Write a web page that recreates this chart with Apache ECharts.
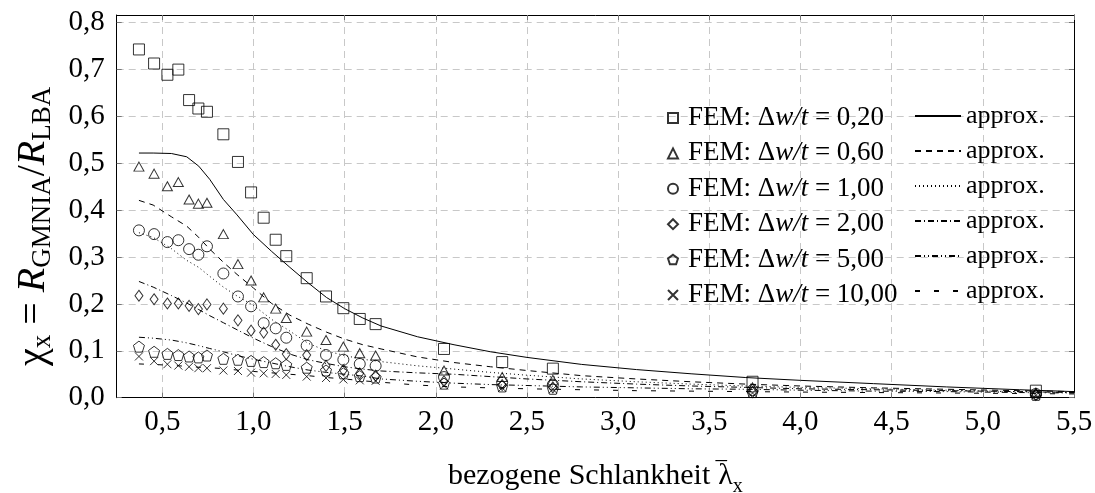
<!DOCTYPE html>
<html>
<head>
<meta charset="utf-8">
<script src="https://cdn.jsdelivr.net/npm/echarts@6/dist/echarts.min.js"></script>
<style>
html,body{margin:0;padding:0;background:#fff;}
#chart{width:1095px;height:493px;}
</style>
</head>
<body>
<div id="chart"></div>
<script>
// ---------- data ----------
const xTicks = [0.5, 1.0, 1.5, 2.0, 2.5, 3.0, 3.5, 4.0, 4.5, 5.0, 5.5];
const yTicks = [0, 0.1, 0.2, 0.3, 0.4, 0.5, 0.6, 0.7, 0.8];
const imperfLabels = ['0,20', '0,60', '1,00', '2,00', '5,00', '10,00'];

// FEM results: relative slenderness values
const femX = [0.372, 0.455, 0.528, 0.588, 0.647, 0.698, 0.745, 0.835, 0.915, 0.987, 1.056, 1.122, 1.18, 1.292, 1.398, 1.493, 1.583, 1.67, 2.045, 2.364, 2.642, 3.737, 5.291];
const fem020 = [0.743, 0.713, 0.689, 0.700, 0.635, 0.617, 0.610, 0.562, 0.503, 0.438, 0.384, 0.337, 0.302, 0.255, 0.216, 0.191, 0.168, 0.157, 0.104, 0.076, 0.062, 0.034, 0.015];
const fem060 = [0.493, 0.478, 0.451, 0.460, 0.423, 0.414, 0.416, 0.349, 0.285, 0.250, 0.214, 0.190, 0.170, 0.141, 0.123, 0.109, 0.095, 0.090, 0.058, 0.044, 0.038, 0.022, 0.011];
const fem100 = [0.357, 0.349, 0.332, 0.336, 0.317, 0.305, 0.323, 0.265, 0.216, 0.195, 0.159, 0.148, 0.128, 0.111, 0.091, 0.081, 0.072, 0.068, 0.044, 0.033, 0.028, 0.016, 0.008];
const fem200 = [0.2175, 0.210, 0.201, 0.201, 0.196, 0.189, 0.199, 0.190, 0.165, 0.143, 0.139, 0.113, 0.093, 0.091, 0.068, 0.059, 0.052, 0.047, 0.035, 0.027, 0.022, 0.012, 0.006];
const fem500 = [0.109, 0.098, 0.0935, 0.091, 0.088, 0.086, 0.090, 0.083, 0.081, 0.0785, 0.076, 0.0735, 0.070, 0.064, 0.058, 0.052, 0.046, 0.043, 0.030, 0.024, 0.019, 0.012, 0.006];
const fem1000 = [0.088, 0.078, 0.0714, 0.0685, 0.066, 0.063, 0.063, 0.058, 0.057, 0.0535, 0.052, 0.0507, 0.0486, 0.045, 0.042, 0.039, 0.037, 0.036, 0.026, 0.021, 0.018, 0.010, 0.005];

// approximation curves
const lineX = [0.372, 0.45, 0.55, 0.634, 0.70, 0.76, 0.835, 0.91, 1.0, 1.1, 1.2, 1.3, 1.4, 1.5, 1.6, 1.7, 1.9, 2.1, 2.3, 2.5, 2.8, 3.1, 3.4, 3.7, 4.0, 4.4, 4.8, 5.2, 5.5];
const approx020 = [0.522, 0.522, 0.521, 0.514, 0.494, 0.466, 0.423, 0.390, 0.348, 0.312, 0.278, 0.245, 0.214, 0.190, 0.170, 0.153, 0.130, 0.113, 0.098, 0.086, 0.071, 0.060, 0.051, 0.043, 0.037, 0.030, 0.023, 0.017, 0.013];
const approx060 = [0.421, 0.411, 0.386, 0.366, 0.342, 0.317, 0.289, 0.263, 0.234, 0.201, 0.176, 0.157, 0.140, 0.125, 0.113, 0.104, 0.087, 0.075, 0.066, 0.058, 0.047, 0.040, 0.034, 0.029, 0.025, 0.021, 0.018, 0.015, 0.013];
const approx100 = [0.352, 0.342, 0.318, 0.293, 0.278, 0.259, 0.236, 0.217, 0.197, 0.167, 0.142, 0.116, 0.100, 0.090, 0.082, 0.077, 0.068, 0.061, 0.054, 0.048, 0.040, 0.034, 0.029, 0.025, 0.022, 0.019, 0.016, 0.013, 0.011];
const approx200 = [0.248, 0.236, 0.218, 0.202, 0.188, 0.175, 0.160, 0.145, 0.127, 0.109, 0.093, 0.081, 0.073, 0.066, 0.061, 0.057, 0.053, 0.050, 0.045, 0.040, 0.034, 0.029, 0.025, 0.022, 0.019, 0.017, 0.015, 0.013, 0.011];
const approx500 = [0.129, 0.127, 0.123, 0.117, 0.111, 0.105, 0.098, 0.090, 0.082, 0.074, 0.066, 0.059, 0.054, 0.050, 0.046, 0.040, 0.035, 0.031, 0.028, 0.026, 0.023, 0.021, 0.019, 0.018, 0.016, 0.014, 0.013, 0.011, 0.010];
const approx1000 = [0.072, 0.071, 0.069, 0.067, 0.065, 0.064, 0.062, 0.059, 0.056, 0.053, 0.050, 0.047, 0.043, 0.040, 0.036, 0.033, 0.027, 0.023, 0.021, 0.019, 0.017, 0.015, 0.014, 0.013, 0.012, 0.011, 0.010, 0.009, 0.008];

// ---------- styling ----------
const FONT = 'Liberation Serif';
const femSets = [fem020, fem060, fem100, fem200, fem500, fem1000];
const approxSets = [approx020, approx060, approx100, approx200, approx500, approx1000];
const symbols = [
  'rect', 'triangle', 'circle', 'diamond',
  'path://M0,-1 L0.951,-0.309 L0.588,0.809 L-0.588,0.809 L-0.951,-0.309 Z',
  'path://M0,0 L10,10 M10,0 L0,10'
];
const symbolSizes = [11, [10, 9], 11, [8, 11], 11, 8];
const dashes = ['solid', [6, 5], [1, 3], [6, 3, 1, 3], [6, 3, 1, 3, 1, 3], [5, 14]];

function zip(xs, ys) { return xs.map((x, i) => [x, ys[i]]); }
const femName = i => 'FEM: Δw/t = ' + imperfLabels[i];
const apxName = i => 'approx. ' + imperfLabels[i];

const series = [];
approxSets.forEach((ys, i) => {
  series.push({
    type: 'line', name: apxName(i), xAxisIndex: 0, yAxisIndex: 0,
    data: zip(lineX, ys), showSymbol: false, symbol: 'none', smooth: false,
    lineStyle: { color: '#000', width: 1, type: dashes[i] },
    itemStyle: { color: 'rgba(0,0,0,0)', borderWidth: 0 }, z: 2, silent: true
  });
});
femSets.forEach((ys, i) => {
  series.push({
    type: 'scatter', name: femName(i), xAxisIndex: 0, yAxisIndex: 0,
    data: zip(femX, ys), symbol: symbols[i], symbolSize: symbolSizes[i],
    itemStyle: { color: 'rgba(0,0,0,0)', borderColor: '#000', borderWidth: 1 },
    z: 3, silent: true
  });
});

const fmt1 = v => v.toFixed(1).replace('.', ',');
const tickStyle = { color: '#777', width: 1 };
const frame = { show: true, onZero: false, lineStyle: { color: '#000', width: 1 } };

const option = {
  animation: false,
  backgroundColor: '#fff',
  grid: { left: 116.7, right: 21, top: 15, bottom: 95.3, containLabel: false, outerBoundsMode: 'none' },
  xAxis: [
    {
      type: 'value', min: 0.25, max: 5.5, position: 'bottom',
      axisLine: frame,
      axisTick: { show: true, inside: true, length: 5, customValues: xTicks, lineStyle: tickStyle },
      axisLabel: { customValues: xTicks, formatter: fmt1, fontFamily: FONT, fontSize: 29, color: '#000', margin: 10 },
      splitLine: { show: true, lineStyle: { color: '#c8c8c8', width: 1, type: [7, 5] } },
      name: '{n|bezogene Schlankheit}{sp|}{m|\u2009‾}{n|λ}{s|x}',
      nameLocation: 'middle', nameGap: 57,
      nameTextStyle: {
        rich: {
          n: { fontFamily: FONT, fontSize: 30, color: '#000', lineHeight: 42, verticalAlign: 'middle' },
          sp: { width: 8, lineHeight: 42 },
          m: { fontFamily: FONT, fontSize: 30, color: '#000', lineHeight: 42, verticalAlign: 'middle', width: 0 },
          s: { fontFamily: FONT, fontSize: 20, color: '#000', lineHeight: 42, verticalAlign: 'bottom' }
        }
      }
    },
    {
      type: 'value', min: 0.25, max: 5.5, position: 'top',
      axisLine: frame,
      axisTick: { show: true, inside: true, length: 5, customValues: xTicks, lineStyle: tickStyle },
      axisLabel: { show: false },
      splitLine: { show: false }
    }
  ],
  yAxis: [
    {
      type: 'value', min: 0, max: 0.8165, position: 'left',
      axisLine: frame,
      axisTick: { show: true, inside: true, length: 5, customValues: yTicks, lineStyle: tickStyle },
      axisLabel: { customValues: yTicks, formatter: fmt1, fontFamily: FONT, fontSize: 29, color: '#000', margin: 12, padding: [8, 0, 0, 0] },
      splitLine: { show: true, lineStyle: { color: '#c8c8c8', width: 1, type: [7, 5] } },
      name: '{n|χ}{s|x}{n| = }{i|R}{s|GMNIA}{n|/}{i|R}{s|LBA}',
      nameLocation: 'middle', nameGap: 60, nameRotate: 90,
      nameTextStyle: {
        padding: [0, 40, 0, 0],
        rich: {
          n: { fontFamily: FONT, fontSize: 40, color: '#000', lineHeight: 46, verticalAlign: 'middle' },
          i: { fontFamily: FONT, fontSize: 40, fontStyle: 'italic', color: '#000', lineHeight: 46, verticalAlign: 'middle' },
          s: { fontFamily: FONT, fontSize: 27, color: '#000', lineHeight: 46, verticalAlign: 'bottom' }
        }
      }
    },
    {
      type: 'value', min: 0, max: 0.8165, position: 'right',
      axisLine: frame,
      axisTick: { show: true, inside: true, length: 5, customValues: yTicks, lineStyle: tickStyle },
      axisLabel: { show: false },
      splitLine: { show: false }
    }
  ],
  legend: [
    {
      data: imperfLabels.map((_, i) => femName(i)),
      orient: 'vertical', left: 662, top: 99, itemGap: 7.4, itemWidth: 10, itemHeight: 10,
      selectedMode: false,
      formatter: name => {
        const lab = name.split('= ')[1];
        return '{g|}{a|FEM: Δ}{b|w/t}{a| = ' + lab + '}';
      },
      textStyle: {
        lineHeight: 28,
        rich: {
          g: { width: 5, lineHeight: 28 },
          a: { fontFamily: FONT, fontSize: 27, color: '#000', lineHeight: 28 },
          b: { fontFamily: FONT, fontSize: 27, fontStyle: 'italic', color: '#000', lineHeight: 28 }
        }
      }
    },
    {
      data: imperfLabels.map((_, i) => apxName(i)),
      orient: 'vertical', left: 909, top: 97, itemGap: 7, itemWidth: 46, itemHeight: 10,
      selectedMode: false,
      formatter: () => 'approx.',
      textStyle: { fontFamily: FONT, fontSize: 26, color: '#000', lineHeight: 28 }
    }
  ],
  series: series
};

const chart = echarts.init(document.getElementById('chart'), null, { renderer: 'canvas' });
chart.setOption(option);
</script>
</body>
</html>
